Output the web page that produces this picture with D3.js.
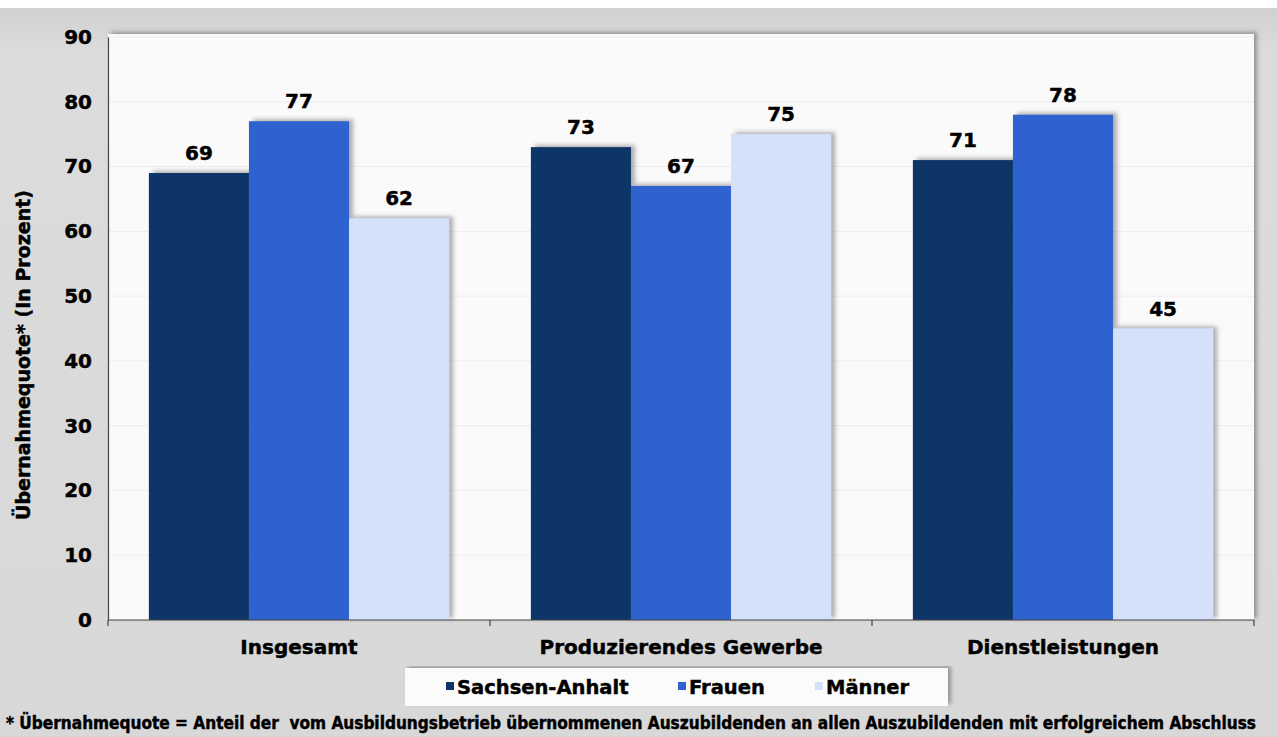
<!DOCTYPE html>
<html>
<head>
<meta charset="utf-8">
<script src="https://cdn.jsdelivr.net/npm/d3@7"></script>
<style>
  html, body { margin: 0; padding: 0; background: #ffffff; }
  svg { display: block; }
  .heavy { stroke: #000; stroke-width: 0.45px; paint-order: stroke; }
</style>
</head>
<body>
<svg id="chart" width="1277" height="737"></svg>
<script>
// Categories, series and values
const categories = ["Insgesamt", "Produzierendes Gewerbe", "Dienstleistungen"];
const seriesNames = ["Sachsen-Anhalt", "Frauen", "Männer"];
const sachsenAnhalt = [69, 73, 71];
const frauen = [77, 67, 78];
const maenner = [62, 75, 45];
const yTicks = [0, 10, 20, 30, 40, 50, 60, 70, 80, 90];
const seriesColors = ["#0c3468", "#2f62cf", "#d5e0fa"];
const yAxisTitle = "Übernahmequote* (In Prozent)";
const footnote = "* Übernahmequote = Anteil der  vom Ausbildungsbetrieb übernommenen Auszubildenden an allen Auszubildenden mit erfolgreichem Abschluss";

const seriesValues = [sachsenAnhalt, frauen, maenner];
const rows = categories.map((c, i) => ({
  category: c,
  values: seriesNames.map((s, j) => ({ series: s, value: seriesValues[j][i], idx: j }))
}));

const svg = d3.select("#chart");
const W = 1277, H = 737;
const plot = { left: 108, right: 1254, top: 37, bottom: 620 };
const boldFont = "DejaVu Sans, Verdana, sans-serif";

const defs = svg.append("defs");
const shadow = defs.append("filter").attr("id", "barShadow")
  .attr("x", "-20%").attr("y", "-20%").attr("width", "140%").attr("height", "140%");
shadow.append("feDropShadow").attr("dx", 4).attr("dy", -2).attr("stdDeviation", 2)
  .attr("flood-color", "#555").attr("flood-opacity", 0.45);
const panelShadow = defs.append("filter").attr("id", "panelShadow")
  .attr("x", "-5%").attr("y", "-5%").attr("width", "110%").attr("height", "110%");
panelShadow.append("feDropShadow").attr("dx", 3).attr("dy", -2).attr("stdDeviation", 2)
  .attr("flood-color", "#666").attr("flood-opacity", 0.6);
const bgGrad = defs.append("linearGradient").attr("id", "bgGrad")
  .attr("x1", 0).attr("y1", 0).attr("x2", 0).attr("y2", 1);
bgGrad.append("stop").attr("offset", "0%").attr("stop-color", "#d0d0d0");
bgGrad.append("stop").attr("offset", "6%").attr("stop-color", "#dcdcdc");
bgGrad.append("stop").attr("offset", "100%").attr("stop-color", "#d8d8d8");

// Background
svg.append("rect").attr("width", W).attr("height", H).attr("fill", "#ffffff");
svg.append("rect").attr("x", 0).attr("y", 8).attr("width", W).attr("height", H - 8)
  .attr("fill", "url(#bgGrad)");

// Scales
const x0 = d3.scaleBand().domain(categories).range([plot.left, plot.right]).padding(0);
const gap = x0.bandwidth() * 0.107;
const x1 = d3.scaleBand().domain(seriesNames).range([gap, x0.bandwidth() - gap]).padding(0);
const y = d3.scaleLinear().domain([0, 90]).range([plot.bottom, plot.top]);

// Plot panel
svg.append("rect")
  .attr("x", plot.left).attr("y", y(90) - 3)
  .attr("width", plot.right - plot.left).attr("height", plot.bottom - y(90) + 3)
  .attr("fill", "#fafafa").attr("filter", "url(#panelShadow)");

// Faint gridlines
svg.append("g").selectAll("line").data(yTicks.filter(d => d > 0)).join("line")
  .attr("x1", plot.left).attr("x2", plot.right)
  .attr("y1", d => y(d)).attr("y2", d => y(d))
  .attr("stroke", "#ededed").attr("stroke-width", 1);

// Bars
const groups = svg.append("g").selectAll("g").data(rows).join("g")
  .attr("transform", d => `translate(${x0(d.category)},0)`);

groups.selectAll("rect").data(d => d.values).join("rect")
  .attr("x", d => x1(d.series))
  .attr("y", d => y(d.value))
  .attr("width", x1.bandwidth())
  .attr("height", d => y(0) - y(d.value))
  .attr("fill", d => seriesColors[d.idx])
  .attr("filter", "url(#barShadow)");

// Value labels
groups.selectAll("text").data(d => d.values).join("text")
  .attr("class", "heavy")
  .attr("x", d => x1(d.series) + x1.bandwidth() / 2)
  .attr("y", d => y(d.value) - 13)
  .attr("text-anchor", "middle")
  .attr("font-family", boldFont)
  .attr("font-weight", "bold")
  .attr("font-size", 20)
  .attr("fill", "#000")
  .text(d => d.value);

// Y axis
const yAxis = d3.axisLeft(y).tickValues(yTicks).tickSize(0).tickPadding(16);
const yg = svg.append("g").attr("transform", `translate(${plot.left},0)`).call(yAxis);
yg.select(".domain").attr("stroke", "#444").attr("stroke-width", 1.2);
yg.selectAll("text")
  .attr("class", "heavy")
  .attr("font-family", boldFont)
  .attr("font-weight", "bold")
  .attr("font-size", 20)
  .attr("fill", "#000");

// X axis with ticks at category boundaries
svg.append("line")
  .attr("x1", plot.left).attr("x2", plot.right)
  .attr("y1", plot.bottom).attr("y2", plot.bottom)
  .attr("stroke", "#444").attr("stroke-width", 1.2);
const boundaries = categories.map(c => x0(c)).concat([x0(categories[categories.length - 1]) + x0.bandwidth()]);
svg.append("g").selectAll("line").data(boundaries).join("line")
  .attr("x1", d => d).attr("x2", d => d)
  .attr("y1", plot.bottom).attr("y2", plot.bottom + 6)
  .attr("stroke", "#444").attr("stroke-width", 1.2);

svg.append("g").selectAll("text").data(categories).join("text")
  .attr("class", "heavy")
  .attr("x", d => x0(d) + x0.bandwidth() / 2)
  .attr("y", 654)
  .attr("text-anchor", "middle")
  .attr("font-family", boldFont)
  .attr("font-weight", "bold")
  .attr("font-size", 20)
  .attr("fill", "#000")
  .text(d => d);

// Y axis title
svg.append("text")
  .attr("class", "heavy")
  .attr("transform", `translate(30,${355}) rotate(-90)`)
  .attr("text-anchor", "middle")
  .attr("font-family", boldFont)
  .attr("font-weight", "bold")
  .attr("font-size", 19)
  .attr("fill", "#000")
  .text(yAxisTitle);

// Legend
const legend = svg.append("g");
legend.append("rect")
  .attr("x", 405).attr("y", 668).attr("width", 543).attr("height", 38)
  .attr("fill", "#fbfbfb").attr("filter", "url(#panelShadow)");
const legendX = [446, 678, 815];
const items = legend.selectAll("g").data(seriesNames).join("g")
  .attr("transform", (d, i) => `translate(${legendX[i]},0)`);
items.append("rect")
  .attr("x", 0).attr("y", 682).attr("width", 8).attr("height", 8)
  .attr("fill", (d, i) => seriesColors[i]);
items.append("text")
  .attr("class", "heavy")
  .attr("x", 11).attr("y", 694)
  .attr("font-family", boldFont)
  .attr("font-weight", "bold")
  .attr("font-size", 19.5)
  .attr("fill", "#000")
  .text(d => d);

// Footnote
svg.append("text")
  .attr("class", "heavy")
  .attr("x", 6).attr("y", 729)
  .attr("textLength", 1250).attr("lengthAdjust", "spacingAndGlyphs")
  .attr("font-family", "DejaVu Sans Condensed, DejaVu Sans, sans-serif")
  .attr("font-weight", "bold")
  .attr("font-size", 17)
  .attr("fill", "#000")
  .style("white-space", "pre")
  .text(footnote);
</script>
</body>
</html>
